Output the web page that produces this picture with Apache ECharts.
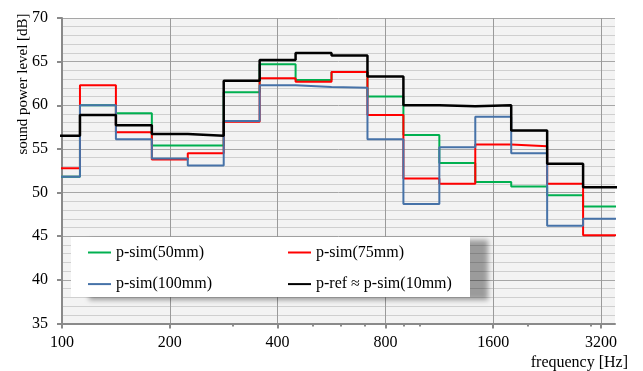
<!DOCTYPE html>
<html>
<head>
<meta charset="utf-8">
<script src="https://cdn.jsdelivr.net/npm/echarts@6/dist/echarts.min.js"></script>
<style>html,body{margin:0;padding:0;background:#fff}#c{width:643px;height:371px}</style>
</head>
<body>
<div id="c"></div>
<script>
// third-octave band centre frequencies [Hz]
const bands = [100, 125, 160, 200, 250, 315, 400, 500, 630, 800, 1000, 1250, 1600, 2000, 2500, 3150];
// sound power level [dB]
const psim50  = [51.8, 60.0, 59.1, 55.4, 55.4, 61.5, 64.7, 62.9, 63.8, 61.0, 56.6, 53.4, 51.2, 50.7, 49.7, 48.4];
const psim75  = [52.8, 62.3, 56.9, 53.8, 54.5, 58.1, 63.1, 62.7, 63.8, 58.9, 51.6, 51.0, 55.5, 55.3, 51.0, 45.1];
const psim100 = [51.8, 60.0, 56.1, 53.9, 53.1, 58.2, 62.3, 62.1, 62.0, 56.1, 48.7, 55.2, 58.7, 54.5, 46.2, 47.0];
const pref    = [56.5, 58.9, 57.7, 56.7, 56.5, 62.8, 65.2, 66.0, 65.7, 63.3, 60.0, 59.9, 60.0, 57.1, 53.3, 50.6];
const seriesNames = ['p-sim(50mm)', 'p-sim(75mm)', 'p-sim(100mm)', 'p-ref \u2248 p-sim(10mm)'];
const xMajorTicks = [100, 200, 400, 800, 1600, 3200];
const xMinorTicks = [300, 500, 600, 700, 900, 1000, 2000, 3000];
const xRange = [100, 3500];
const yRange = [35, 70];

function stepData(vals) {
  const pts = [];
  bands.forEach((f, i) => {
    // band edges: one-sixth octave either side of the exact centre
    const lo = 100 * Math.pow(2, (i - 0.5) / 3);
    const hi = 100 * Math.pow(2, (i + 0.5) / 3);
    pts.push([lo, vals[i]], [hi, vals[i]]);
  });
  return pts;
}

const FONT = 'Liberation Serif';
const colors = ['#00b050', '#ff0000', '#4672a8', '#000000'];
const allVals = [psim50, psim75, psim100, pref];

const chart = echarts.init(document.getElementById('c'), null, {renderer: 'canvas'});
chart.setOption({
  animation: false,
  grid: {left: 62, right: 28, top: 18, bottom: 47.5, show: true, backgroundColor: '#f3f3f3', borderWidth: 0},
  xAxis: [{
    type: 'log', min: xRange[0], max: xRange[1],
    axisLine: {show: true, lineStyle: {color: '#8a8a8a', width: 2}},
    axisTick: {show: true, customValues: xMajorTicks, length: 5, lineStyle: {color: '#8a8a8a', width: 2}},
    axisLabel: {customValues: xMajorTicks, margin: 11, fontFamily: FONT, fontSize: 16, color: '#000',
      formatter: v => String(Math.round(v))},
    splitLine: {show: true, lineStyle: {color: '#9a9a9a', width: 1}},
    minorSplitLine: {show: false}
  }, {
    type: 'log', min: xRange[0], max: xRange[1], position: 'bottom',
    axisLine: {show: false},
    axisTick: {show: true, customValues: xMinorTicks, length: 3, lineStyle: {color: '#8a8a8a', width: 2}},
    axisLabel: {show: false},
    splitLine: {show: false}
  }],
  yAxis: {
    type: 'value', min: yRange[0], max: yRange[1], interval: 5,
    axisLine: {show: true, lineStyle: {color: '#8a8a8a', width: 2}},
    axisTick: {show: true, length: 5, lineStyle: {color: '#8a8a8a', width: 2}},
    axisLabel: {margin: 14, fontFamily: FONT, fontSize: 16, color: '#000'},
    splitLine: {show: true, lineStyle: {color: '#a6a6a6', width: 1}},
    minorTick: {show: false, splitNumber: 5},
    minorSplitLine: {show: true, lineStyle: {color: '#cfcfcf', width: 1.2}}
  },
  legend: [{
    data: [seriesNames[0], seriesNames[2]], orient: 'vertical', left: 88, top: 244.5, padding: 0,
    itemGap: 15.6, icon: 'rect', itemWidth: 23, itemHeight: 2, z: 20,
    textStyle: {fontFamily: FONT, fontSize: 16, lineHeight: 16, color: '#000'}
  }, {
    data: [seriesNames[1], seriesNames[3]], orient: 'vertical', left: 288, top: 244.5, padding: 0,
    itemGap: 15.6, icon: 'rect', itemWidth: 23, itemHeight: 2, z: 20,
    textStyle: {fontFamily: FONT, fontSize: 16, lineHeight: 16, color: '#000'}
  }],
  graphic: [{
    type: 'rect', z: 10, silent: true,
    shape: {x: 71, y: 237, width: 399, height: 60},
    style: {fill: '#ffffff', shadowBlur: 5, shadowOffsetX: 18, shadowOffsetY: 3, shadowColor: 'rgba(0,0,0,0.36)'}
  }, {
    type: 'text', z: 10, silent: true, x: 23, y: 84, rotation: Math.PI / 2,
    style: {text: 'sound power level [dB]', x: 0, y: 0, textAlign: 'center', textVerticalAlign: 'middle',
      font: '15px "Liberation Serif"', fill: '#000'}
  }, {
    type: 'text', z: 10, silent: true, x: 628, y: 363,
    style: {text: 'frequency [Hz]', x: 0, y: 0, textAlign: 'right', textVerticalAlign: 'middle',
      font: '16px "Liberation Serif"', fill: '#000'}
  }],
  series: seriesNames.map((name, k) => ({
    name: name, type: 'line', xAxisIndex: 0, data: stepData(allVals[k]),
    symbol: 'none', clip: true, z: 2 + k,
    lineStyle: {color: colors[k], width: k === 3 ? 2.5 : 2},
    itemStyle: {color: colors[k]}
  }))
});
</script>
</body>
</html>
